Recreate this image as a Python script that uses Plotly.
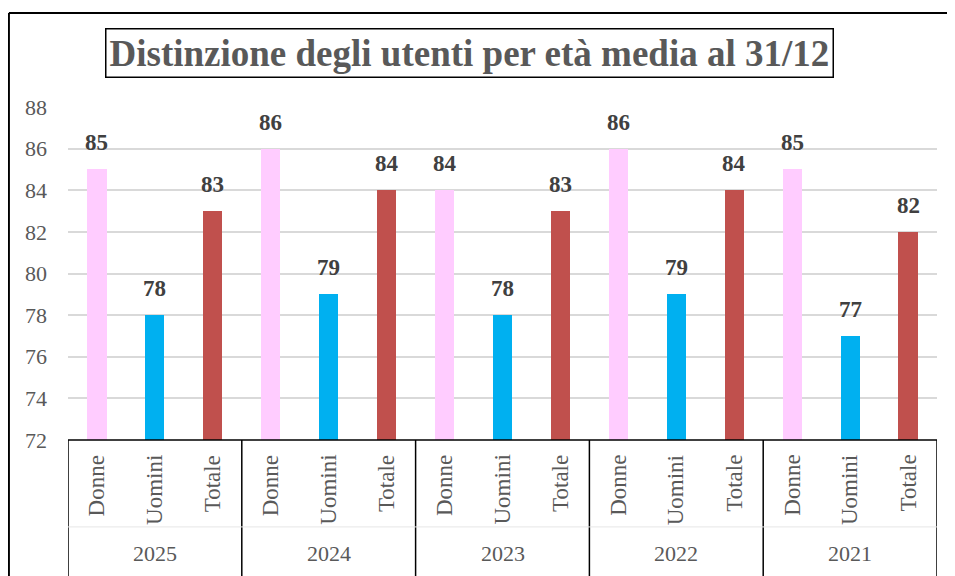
import plotly.graph_objects as go

years = ["2025", "2024", "2023", "2022", "2021"]
subcats = ["Donne", "Uomini", "Totale"]
donne = [85, 86, 84, 86, 85]
uomini = [78, 79, 78, 79, 77]
totale = [83, 84, 83, 84, 82]
colors = ["#FFCCFF", "#00B0F0", "#C0504D"]
yticks = [72, 74, 76, 78, 80, 82, 84, 86, 88]
title_text = "Distinzione degli utenti per età media al 31/12"

FONT = "Liberation Serif"
series = [donne, uomini, totale]
n_sub = len(subcats)

fig = go.Figure()
annotations = []
for k, (name, vals, col) in enumerate(zip(subcats, series, colors)):
    xs = [g * n_sub + k for g in range(len(years))]
    fig.add_trace(go.Bar(
        x=xs, y=[v - yticks[0] for v in vals], base=yticks[0],
        name=name, marker=dict(color=col, line=dict(width=0)),
        width=0.33, showlegend=False, hoverinfo="skip",
    ))
    for x, v in zip(xs, vals):
        annotations.append(dict(
            x=x, y=v, xref="x", yref="y", text=str(v), showarrow=False,
            yanchor="bottom", yshift=12,
            font=dict(family=FONT, size=23, color="#404040", weight="bold"),
        ))
        annotations.append(dict(
            x=x, y=-0.039, xref="x", yref="paper", text=name, showarrow=False,
            textangle=-90, yanchor="top", xanchor="center",
            font=dict(family=FONT, size=23, color="#595959"),
        ))

shapes = []
for g, yr in enumerate(years):
    annotations.append(dict(
        x=g * n_sub + 1, y=-0.342, xref="x", yref="paper", text=yr,
        showarrow=False, yanchor="middle",
        font=dict(family=FONT, size=22, color="#595959"),
    ))
for g in range(len(years) + 1):
    xb = g * n_sub - 0.5
    shapes.append(dict(type="line", xref="x", yref="paper", x0=xb, x1=xb,
                       y0=0, y1=-0.5, line=dict(color="black", width=1.5)))
# faint separator between subcategory and year rows
shapes.append(dict(type="line", xref="x", yref="paper", x0=-0.5,
                   x1=len(years) * n_sub - 0.5, y0=-0.261, y1=-0.261,
                   line=dict(color="#E6E6E6", width=1)))
# axis line
shapes.append(dict(type="line", xref="x", yref="paper", x0=-0.5,
                   x1=len(years) * n_sub - 0.5, y0=0, y1=0,
                   line=dict(color="black", width=1.5)))
# outer chart frame (left and top edges visible)
shapes.append(dict(type="line", xref="paper", yref="paper",
                   x0=-0.068, x1=-0.068, y0=-0.6, y1=1.2825,
                   line=dict(color="black", width=2)))
shapes.append(dict(type="line", xref="paper", yref="paper",
                   x0=-0.068, x1=1.3, y0=1.2825, y1=1.2825,
                   line=dict(color="black", width=2)))

# title with box
annotations.append(dict(
    x=0.4617, y=1.1622, xref="paper", yref="paper", text=title_text,
    showarrow=False, xanchor="center", yanchor="middle",
    font=dict(family=FONT, size=37, color="#595959", weight="bold"),
    bordercolor="black", borderwidth=1.5, borderpad=3, bgcolor="white",
))

fig.update_layout(
    width=947, height=568,
    margin=dict(l=60, r=18, t=99, b=136),
    paper_bgcolor="white", plot_bgcolor="white",
    bargap=0,
    xaxis=dict(range=[-0.5, len(years) * n_sub - 0.5], showticklabels=False,
               showgrid=False, zeroline=False, showline=False, ticks=""),
    yaxis=dict(range=[yticks[0], yticks[-1]], tickvals=yticks,
               showgrid=True, gridcolor="#D9D9D9", gridwidth=1.5,
               zeroline=False, showline=False, ticks="",
               ticklabelstandoff=20,
               tickfont=dict(family=FONT, size=22, color="#595959")),
    shapes=shapes, annotations=annotations,
)

fig.write_html("out.html")
